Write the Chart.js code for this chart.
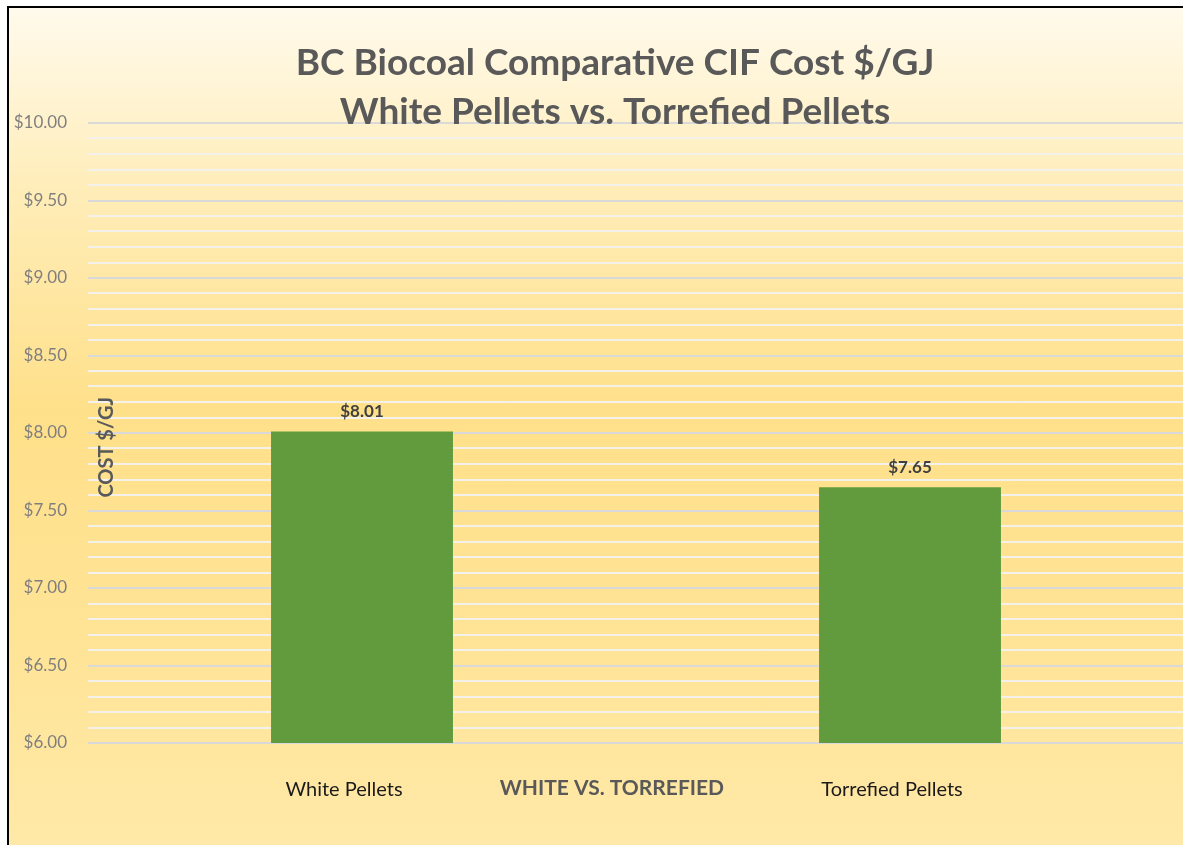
<!DOCTYPE html>
<html>
<head>
<meta charset="utf-8">
<script src="https://cdn.jsdelivr.net/npm/chart.js@4.4.1/dist/chart.umd.min.js"></script>
<style>
  html, body { margin: 0; padding: 0; background: #ffffff; overflow: hidden; width: 1183px; height: 845px; }
  #frame {
    position: absolute; left: 7px; top: 6px; width: 1212px; height: 839px;
    border-left: 2px solid #000; border-top: 2px solid #000;
    background: linear-gradient(to bottom, #FFFAEC 0%, #FFEDB8 22%, #FFE08A 48%, #FFE496 75%, #FFE9A8 100%);
  }
  #wrap { position: absolute; left: 0; top: 0; width: 1212px; height: 839px; }
</style>
</head>
<body>
<div id="frame"><div id="wrap"><canvas id="c"></canvas></div></div>
<script>
// ---- data ----
const categories = ["White Pellets", "Torrefied Pellets"];
const costValues = [8.01, 7.65];
const titleLines = ["BC Biocoal Comparative CIF Cost $/GJ", "White Pellets vs. Torrefied Pellets"];
const yAxisTitle = "COST $/GJ";
const xAxisTitle = "WHITE VS. TORREFIED";
const yMin = 6.0;
const yMax = 10.0;
const yMinorStep = 0.1;
const yMajorStep = 0.5;

const isMajor = v => Math.abs(v / yMajorStep - Math.round(v / yMajorStep)) < 1e-6;
const FONT = 'Lato, "Open Sans", sans-serif';

const overlay = {
  id: 'overlay',
  afterDatasetsDraw(chart) {
    const ctx = chart.ctx;
    const ca = chart.chartArea;
    ctx.save();
    // title
    ctx.fillStyle = '#595959';
    ctx.textAlign = 'center';
    ctx.textBaseline = 'middle';
    ctx.font = 'bold 37px ' + FONT;
    ctx.fillText(titleLines[0], chart.width / 2, 55);
    ctx.fillText(titleLines[1], chart.width / 2, 104);
    // data labels
    const meta = chart.getDatasetMeta(0);
    ctx.fillStyle = '#404040';
    ctx.font = 'bold 17px ' + FONT;
    meta.data.forEach((bar, i) => {
      ctx.fillText('$' + costValues[i].toFixed(2), bar.x, bar.y - 20);
    });
    // x axis title
    ctx.fillStyle = '#595959';
    ctx.font = 'bold 21px ' + FONT;
    ctx.fillText(xAxisTitle, ca.left + (ca.right - ca.left) * 0.478, 780);
    // y axis title
    ctx.translate(ca.left + 19, ca.top + (ca.bottom - ca.top) * 0.523);
    ctx.rotate(-Math.PI / 2);
    ctx.font = 'bold 20px ' + FONT;
    ctx.fillText(yAxisTitle, 0, 0);
    ctx.restore();
  }
};

new Chart(document.getElementById('c'), {
  type: 'bar',
  data: {
    labels: categories,
    datasets: [{
      data: costValues,
      backgroundColor: '#629B3E',
      borderWidth: 0,
      barPercentage: 1.0,
      categoryPercentage: 0.332
    }]
  },
  options: {
    responsive: true,
    maintainAspectRatio: false,
    animation: false,
    layout: { padding: { top: 115, right: 37, left: 0, bottom: 0 } },
    plugins: { legend: { display: false }, tooltip: { enabled: false }, title: { display: false } },
    scales: {
      x: {
        grid: { display: false, drawTicks: false },
        border: { display: false },
        ticks: {
          color: '#1A1A1A',
          font: { family: FONT, size: 20 },
          padding: 35,
          labelOffset: -18
        },
        afterFit(scale) { scale.height = 104; }
      },
      y: {
        min: yMin,
        max: yMax,
        grid: {
          drawTicks: false,
          lineWidth: 2,
          color: c => (c.tick && isMajor(c.tick.value)) ? '#D9D9D9' : '#F3F1EA'
        },
        border: { display: false },
        ticks: {
          stepSize: yMinorStep,
          autoSkip: false,
          color: '#7F7F7F',
          font: { family: FONT, size: 17 },
          padding: 21,
          callback: v => isMajor(v) ? '$' + v.toFixed(2) : ''
        },
        afterFit(scale) { scale.width = 79; }
      }
    }
  },
  plugins: [overlay]
});
</script>
</body>
</html>
